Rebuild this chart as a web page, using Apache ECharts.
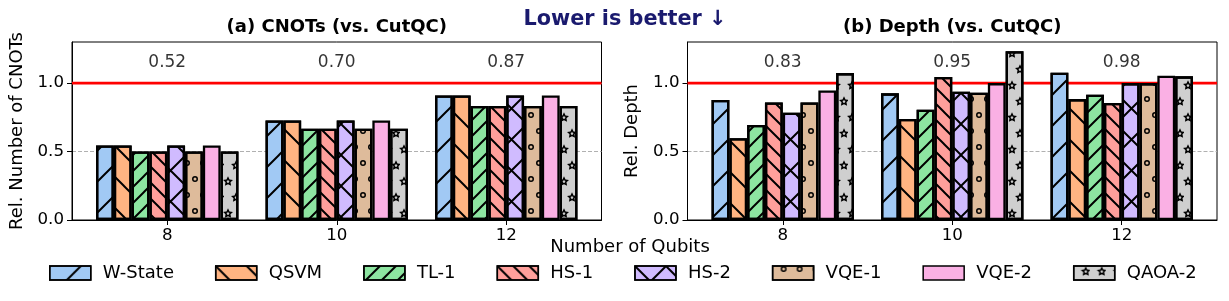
<!DOCTYPE html>
<html>
<head>
<meta charset="utf-8">
<script src="https://cdn.jsdelivr.net/npm/echarts@6/dist/echarts.min.js"></script>
<style>html,body{margin:0;padding:0;background:#fff}#c{width:1229px;height:301px}</style>
</head>
<body>
<div id="c"></div>
<script>
const FONT = 'DejaVu Sans';
const categories = ['8', '10', '12'];
const seriesNames = ['W-State', 'QSVM', 'TL-1', 'HS-1', 'HS-2', 'VQE-1', 'VQE-2', 'QAOA-2'];
const seriesColors = ['#a1c9f4', '#ffb482', '#8de5a1', '#ff9f9b', '#d0bbff', '#debb9b', '#fab0e4', '#cfcfcf'];
const seriesHatches = ['/', '\\', '//', '\\\\', 'x', 'o', '', '*'];

// (a) relative number of CNOTs
const cnotWState = [0.545, 0.727, 0.909];
const cnotQSVM   = [0.545, 0.727, 0.909];
const cnotTL1    = [0.500, 0.667, 0.833];
const cnotHS1    = [0.500, 0.667, 0.833];
const cnotHS2    = [0.545, 0.727, 0.909];
const cnotVQE1   = [0.500, 0.667, 0.833];
const cnotVQE2   = [0.545, 0.727, 0.909];
const cnotQAOA2  = [0.500, 0.667, 0.833];
const cnotAvgLabels = ['0.52', '0.70', '0.87'];

// (b) relative depth
const depthWState = [0.877, 0.925, 1.075];
const depthQSVM   = [0.597, 0.738, 0.883];
const depthTL1    = [0.694, 0.806, 0.915];
const depthHS1    = [0.859, 1.044, 0.854];
const depthHS2    = [0.783, 0.937, 1.000];
const depthVQE1   = [0.859, 0.930, 1.000];
const depthVQE2   = [0.946, 1.000, 1.053];
const depthQAOA2  = [1.073, 1.233, 1.049];
const depthAvgLabels = ['0.83', '0.95', '0.98'];

const yTicks = [0, 0.5, 1.0];
const referenceY = 1.0;
const annotationY = 1.15;
const xMin = -0.562, xMax = 2.562;

const cnotValues = [cnotWState, cnotQSVM, cnotTL1, cnotHS1, cnotHS2, cnotVQE1, cnotVQE2, cnotQAOA2];
const depthValues = [depthWState, depthQSVM, depthTL1, depthHS1, depthHS2, depthVQE1, depthVQE2, depthQAOA2];

// hatch patterns (tile-based, continuous across tiles)
function neBand(p, t) {
  return `M0 ${p-t} L${p-t} 0 L${p} 0 L${p} ${t} L${t} ${p} L0 ${p} Z M0 0 L${t} 0 L0 ${t} Z M${p} ${p} L${p-t} ${p} L${p} ${p-t} Z`;
}
function seBand(p, t) {
  return `M0 0 L${t} 0 L${p} ${p-t} L${p} ${p} L${p-t} ${p} L0 ${t} Z M${p} 0 L${p} ${t} L${p-t} 0 Z M0 ${p} L0 ${p-t} L${t} ${p} Z`;
}
const ringPath = 'path://M6 3 A3 3 0 1 1 0 3 A3 3 0 1 1 6 3 Z M4.5 3 A1.5 1.5 0 1 0 1.5 3 A1.5 1.5 0 1 0 4.5 3 Z';
const starPath = 'path://M100 0 L70.61 59.55 L4.89 69.1 L52.45 115.45 L41.22 180.9 L100 150 L158.78 180.9 L147.55 115.45 L195.11 69.1 L129.39 59.55 Z ' +
  'M100 65 L110.29 85.84 L133.29 89.19 L116.64 105.41 L120.57 128.32 L100 117.5 L79.43 128.32 L83.36 105.41 L66.71 89.19 L89.71 85.84 Z';

const SPARSE = 31, DENSE = 16, LW = 1.4;
function lineDecal(path, p) {
  return { color: '#000', symbolSize: 1, symbol: 'path://' + path, dashArrayX: [p, 0], dashArrayY: [p, 0], symbolKeepAspect: false };
}
function decalFor(h) {
  if (h === '/') return lineDecal(neBand(SPARSE, LW), SPARSE);
  if (h === '\\') return lineDecal(seBand(SPARSE, LW), SPARSE);
  if (h === '//') return lineDecal(neBand(DENSE, LW), DENSE);
  if (h === '\\\\') return lineDecal(seBand(DENSE, LW), DENSE);
  if (h === 'x') return lineDecal(neBand(SPARSE, LW) + ' ' + seBand(SPARSE, LW), SPARSE);
  if (h === 'o') return { color: '#000', symbolSize: 1, symbol: ringPath, dashArrayX: [[6, 10], [0, 8, 6, 2]], dashArrayY: [6, 10] };
  if (h === '*') return { color: '#000', symbolSize: 1.25, symbol: starPath, dashArrayX: [[8, 8], [0, 8, 8, 0]], dashArrayY: [10, 6] };
  return null;
}

function barSeries(g, values) {
  return seriesNames.map((name, i) => {
    const s = {
      type: 'bar', name: name, xAxisIndex: g, yAxisIndex: g,
      data: values[i].map((v, j) => [j, v]),
      barWidth: 17.8, barGap: '0%', z: 2,
      itemStyle: { color: seriesColors[i], borderColor: '#000', borderWidth: 2.3 }
    };
    const d = decalFor(seriesHatches[i]);
    if (d) s.itemStyle.decal = d;
    return s;
  });
}

function refLine(g) {
  return { type: 'line', xAxisIndex: g, yAxisIndex: g, data: [[xMin, referenceY], [xMax, referenceY]],
    symbol: 'none', silent: true, z: 1, lineStyle: { color: '#ff0000', width: 2.8 } };
}
function annotations(g, labels) {
  return { type: 'scatter', xAxisIndex: g, yAxisIndex: g, data: labels.map((t, j) => [j, annotationY]),
    symbolSize: 0.1, itemStyle: { color: 'transparent' }, silent: true, z: 5,
    label: { show: true, position: 'inside', formatter: p => labels[p.dataIndex], color: '#000', fontSize: 17, fontFamily: FONT } };
}

function xAxis(g) {
  return { type: 'value', gridIndex: g, min: xMin, max: xMax,
    axisLine: { show: true, onZero: false, lineStyle: { color: '#000', width: 1 } },
    axisTick: { show: true, customValues: [0, 1, 2], length: 5, lineStyle: { color: '#000', width: 1 } },
    axisLabel: { customValues: [0, 1, 2], formatter: v => categories[Math.round(v)], fontSize: 16.67, color: '#000', fontFamily: FONT, margin: 7 },
    splitLine: { show: false } };
}
function yAxis(g) {
  return { type: 'value', gridIndex: g, min: 0, max: 1.3, interval: 0.5,
    axisLine: { show: true, onZero: false, lineStyle: { color: '#000', width: 1 } },
    axisTick: { show: true, customValues: yTicks, length: 5, lineStyle: { color: '#000', width: 1 } },
    axisLabel: { customValues: yTicks, formatter: v => v.toFixed(1), fontSize: 16.67, color: '#000', fontFamily: FONT, margin: 8 },
    splitLine: { show: true, lineStyle: { color: '#b0b0b0', type: [4, 2], width: 1 } } };
}

function txt(text, x, y, size, bold, color, rot) {
  const font = (bold ? 'bold ' : '') + size + 'px "' + FONT + '"';
  return { type: 'text', x: x, y: y, rotation: rot || 0, silent: true,
    style: { text: text, font: font, fill: color || '#000', align: 'center', verticalAlign: 'middle', textAlign: 'center', textVerticalAlign: 'middle' } };
}

const chart = echarts.init(document.getElementById('c'), null, { renderer: 'canvas' });
chart.setOption({
  animation: false,
  backgroundColor: '#fff',
  textStyle: { fontFamily: FONT },
  grid: [
    { left: 72, top: 42, width: 529.5, height: 178, show: true, borderColor: '#000', borderWidth: 1, containLabel: false },
    { left: 687.5, top: 42, width: 529.5, height: 178, show: true, borderColor: '#000', borderWidth: 1, containLabel: false }
  ],
  xAxis: [xAxis(0), xAxis(1)],
  yAxis: [yAxis(0), yAxis(1)],
  legend: {
    data: seriesNames, left: 49, top: 264, padding: 0, icon: 'rect', itemWidth: 41, itemHeight: 14, itemGap: 41,
    selectedMode: false,
    itemStyle: { borderColor: '#000', borderWidth: 1.5 },
    textStyle: { fontSize: 18, fontFamily: FONT, color: '#000', padding: [0, 0, 0, 7] }
  },
  graphic: [
    txt('(a) CNOTs (vs. CutQC)', 336.8, 27.5, 18, true),
    txt('(b) Depth (vs. CutQC)', 952.3, 27.5, 18, true),
    txt('Lower is better \u2193', 625, 19.5, 20.8, true, '#1a1a6e'),
    txt('Rel. Number of CNOTs', 17, 131, 18, false, '#000', Math.PI / 2),
    txt('Rel. Depth', 632, 131, 18, false, '#000', Math.PI / 2),
    txt('Number of Qubits', 630, 247, 18, false)
  ],
  series: [].concat(
    [refLine(0), refLine(1)],
    barSeries(0, cnotValues),
    barSeries(1, depthValues),
    [annotations(0, cnotAvgLabels), annotations(1, depthAvgLabels)]
  )
});
</script>
</body>
</html>
